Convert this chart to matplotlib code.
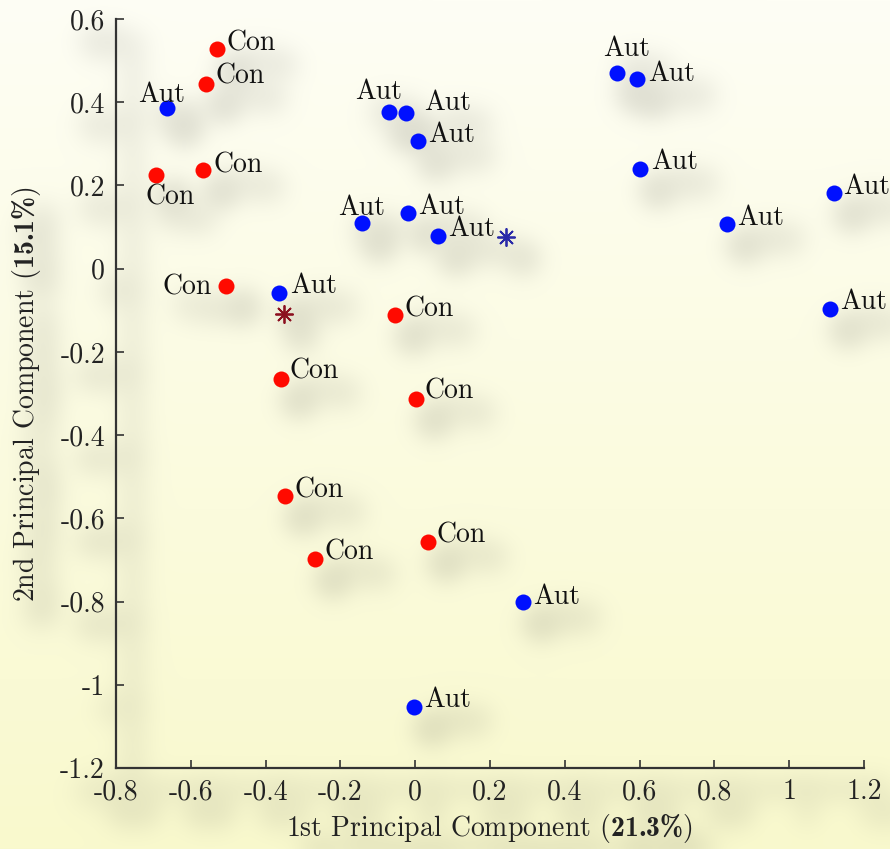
import numpy as np
import matplotlib
matplotlib.use("Agg")
import matplotlib.pyplot as plt

# ---- data: scores on the first two principal components ----
con_x = [-0.530, -0.560, -0.693, -0.567, -0.506, -0.054, -0.359, 0.002, -0.348, -0.268, 0.034]
con_y = [0.528, 0.444, 0.225, 0.237, -0.042, -0.112, -0.265, -0.313, -0.547, -0.698, -0.657]

aut_x = [-0.664, -0.070, -0.025, 0.007, 0.540, 0.593, 0.601, 1.120, 0.834, 1.109,
         -0.142, -0.019, 0.061, -0.364, 0.288, -0.003]
aut_y = [0.386, 0.376, 0.374, 0.307, 0.470, 0.456, 0.239, 0.182, 0.107, -0.097,
         0.110, 0.134, 0.078, -0.059, -0.801, -1.054]

con_label = "Con"
aut_label = "Aut"

x_ticks = [-0.8, -0.6, -0.4, -0.2, 0.0, 0.2, 0.4, 0.6, 0.8, 1.0, 1.2]
x_tick_labels = ["-0.8", "-0.6", "-0.4", "-0.2", "0", "0.2", "0.4", "0.6", "0.8", "1", "1.2"]
y_ticks = [-1.2, -1.0, -0.8, -0.6, -0.4, -0.2, 0.0, 0.2, 0.4, 0.6]
y_tick_labels = ["-1.2", "-1", "-0.8", "-0.6", "-0.4", "-0.2", "0", "0.2", "0.4", "0.6"]

pc1_var = "21.3"
pc2_var = "15.1"

# ---- label placement (pixel offsets from each marker, y downwards) ----
con_offsets = [(10, -7, "left"), (10, -9, "left"), (14, 20, "center"), (10, -7, "left"),
               (-14, -1, "right"), (9, -8, "left"), (9, -9, "left"), (9, -9, "left"),
               (9, -8, "left"), (10, -9, "left"), (9, -9, "left")]
aut_offsets = [(-5, -15, "center"), (-10, -22, "center"), (18, -12, "left"), (10, -8, "left"),
               (9, -26, "center"), (11, -7, "left"), (11, -9, "left"), (9, -8, "left"),
               (10, -8, "left"), (10, -9, "left"), (-1, -17, "center"), (10, -8, "left"),
               (10, -9, "left"), (11, -9, "left"), (10, -7, "left"), (10, -9, "left")]

plt.rcParams["font.family"] = ["cmr10"]
plt.rcParams["mathtext.fontset"] = "custom"
plt.rcParams["mathtext.rm"] = "cmr10"
plt.rcParams["mathtext.bf"] = "cmb10"
plt.rcParams["mathtext.it"] = "cmmi10"
plt.rcParams["axes.unicode_minus"] = False
plt.rcParams["axes.formatter.use_mathtext"] = True

W, H, DPI = 890, 849, 100
FS = 20
PX = 72.0 / DPI  # points per pixel

fig = plt.figure(figsize=(W / DPI, H / DPI), dpi=DPI)
fig.patch.set_alpha(0.0)
ax = fig.add_axes([116 / W, 81 / H, 748 / W, 749 / H])
ax.patch.set_alpha(0.0)

ax.set_xlim(-0.8, 1.2)
ax.set_ylim(-1.2, 0.6)

ax.plot(con_x, con_y, "o", color="#ff0a00", markersize=16 * PX, mec="none", zorder=3)
ax.plot(aut_x, aut_y, "o", color="#0010ff", markersize=16 * PX, mec="none", zorder=3)

# group centroids
ax.plot(np.mean(aut_x), np.mean(aut_y), marker=(8, 2, 0), color="#2a2aa8",
        markersize=13, mew=1.3, linestyle="none", zorder=3)
ax.plot(np.mean(con_x), np.mean(con_y), marker=(8, 2, 0), color="#8c1020",
        markersize=13, mew=1.3, linestyle="none", zorder=3)

BASE = 9  # half cap height in pixels, centre -> baseline


def put_labels(xs, ys, text, offsets):
    for x, y, (dx, dy, ha) in zip(xs, ys, offsets):
        ax.annotate(text, (x, y), xytext=(dx * PX, -(dy + BASE) * PX),
                    textcoords="offset points", ha=ha, va="baseline",
                    fontsize=FS, color="#111111", zorder=4)


put_labels(con_x, con_y, con_label, con_offsets)
put_labels(aut_x, aut_y, aut_label, aut_offsets)

ax.set_xticks(x_ticks)
ax.set_xticklabels(x_tick_labels)
ax.set_yticks(y_ticks)
ax.set_yticklabels(y_tick_labels)
ax.tick_params(direction="in", length=6, width=1.2, colors="#333333",
               labelsize=FS, labelcolor="#222222", pad=8)
for side in ("top", "right"):
    ax.spines[side].set_visible(False)
for side in ("left", "bottom"):
    ax.spines[side].set_color("#333333")
    ax.spines[side].set_linewidth(1.6)

ax.set_xlabel("1st Principal Component ($\\mathbf{" + pc1_var + "\\%}$)",
              fontsize=FS, color="#222222", labelpad=5)
ax.set_ylabel("2nd Principal Component ($\\mathbf{" + pc2_var + "\\%}$)",
              fontsize=FS, color="#222222", labelpad=12)

# ---- soft drop shadow behind everything drawn so far ----
fig.canvas.draw()
rgba = np.asarray(fig.canvas.buffer_rgba()).astype(float) / 255.0
alpha = rgba[..., 3]
h, w = alpha.shape


def blur_matrix(n, shift, sigma):
    i = np.arange(n)[:, None]
    j = np.arange(n)[None, :]
    k = np.exp(-((i - j - shift) ** 2) / (2.0 * sigma ** 2))
    return k / (sigma * np.sqrt(2 * np.pi))


ky = blur_matrix(h, 21, 13.0)
kx = blur_matrix(w, 17, 13.0)
soft = ky @ alpha @ kx.T
shade = 0.27 * (1.0 - np.exp(-soft * 5.0))

# pale vertical gradient background
t = np.linspace(0.0, 1.0, h)[:, None, None]
top = np.array([254, 254, 245]) / 255.0
bottom = np.array([249, 249, 205]) / 255.0
bg = top * (1 - t) + bottom * t
bg = np.broadcast_to(bg, (h, w, 3)).copy()
shadow_rgb = np.array([0.45, 0.45, 0.40])
img = bg * (1 - shade[..., None]) + shadow_rgb * shade[..., None]

fig.figimage(img, xo=0, yo=0, origin="upper", zorder=-10)
fig.savefig("out.png", dpi=DPI)
